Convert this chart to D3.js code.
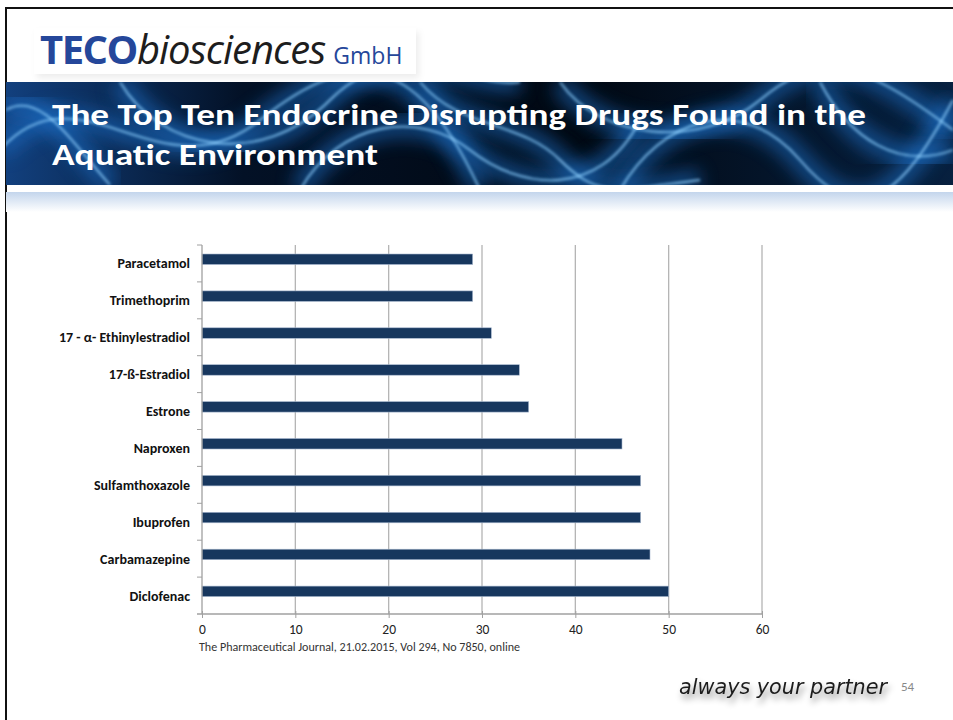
<!DOCTYPE html>
<html>
<head>
<meta charset="utf-8">
<script src="https://cdn.jsdelivr.net/npm/d3@7"></script>
<style>
  html, body { margin: 0; padding: 0; background: #fff; }
  svg { display: block; }
</style>
</head>
<body>
<svg id="slide" width="953" height="720"></svg>
<script>
// chart data, top to bottom as in the slide
const drugs = ["Paracetamol", "Trimethoprim", "17 - \u03b1- Ethinylestradiol", "17-\u00df-Estradiol", "Estrone",
  "Naproxen", "Sulfamthoxazole", "Ibuprofen", "Carbamazepine", "Diclofenac"];
const counts = [29, 29, 31, 34, 35, 45, 47, 47, 48, 50];
const xTicks = [0, 10, 20, 30, 40, 50, 60];

const titleLines = ["The Top Ten Endocrine Disrupting Drugs Found in the", "Aquatic Environment"];
const source = "The Pharmaceutical Journal, 21.02.2015, Vol 294, No 7850, online";

const svg = d3.select("#slide");
const font = "Carlito, Lato, 'Open Sans', sans-serif";

const defs = svg.append("defs");
const bg = defs.append("linearGradient").attr("id", "bannerBg").attr("x1", 0).attr("x2", 1).attr("y1", 0).attr("y2", 0);
bg.append("stop").attr("offset", "0%").attr("stop-color", "#12407e");
bg.append("stop").attr("offset", "25%").attr("stop-color", "#031126");
bg.append("stop").attr("offset", "60%").attr("stop-color", "#010812");
bg.append("stop").attr("offset", "100%").attr("stop-color", "#07203f");
const fade = defs.append("linearGradient").attr("id", "fade").attr("x1", 0).attr("x2", 0).attr("y1", 0).attr("y2", 1);
fade.append("stop").attr("offset", "0%").attr("stop-color", "#c3d5ec");
fade.append("stop").attr("offset", "100%").attr("stop-color", "#ffffff");
defs.append("filter").attr("id", "glow").append("feGaussianBlur").attr("stdDeviation", 1.6);
defs.append("filter").attr("id", "soft").append("feGaussianBlur").attr("stdDeviation", 9);
defs.append("clipPath").attr("id", "bannerClip").append("rect")
  .attr("x", 6).attr("y", 82).attr("width", 947).attr("height", 103);
const sh = defs.append("filter").attr("id", "shadow").attr("x", "-10%").attr("y", "-30%").attr("width", "130%").attr("height", "200%");
sh.append("feDropShadow").attr("dx", 2).attr("dy", 5).attr("stdDeviation", 3).attr("flood-color", "#000").attr("flood-opacity", 0.45);
const lsh = defs.append("filter").attr("id", "logoShadow").attr("x", "-5%").attr("y", "-20%").attr("width", "110%").attr("height", "150%");
lsh.append("feDropShadow").attr("dx", 3).attr("dy", 4).attr("stdDeviation", 3).attr("flood-color", "#000").attr("flood-opacity", 0.07);

// slide frame
svg.append("rect").attr("x", 6).attr("y", 8).attr("width", 960).attr("height", 720)
  .attr("fill", "none").attr("stroke", "#111").attr("stroke-width", 2);

// banner
const banner = svg.append("g").attr("clip-path", "url(#bannerClip)");
banner.append("rect").attr("x", 6).attr("y", 82).attr("width", 947).attr("height", 103).attr("fill", "url(#bannerBg)");
const swirls = [
  "M0,150 C80,60 160,200 260,120 S420,60 480,190",
  "M120,82 C160,150 260,170 330,100 S470,90 520,82",
  "M300,190 C340,120 420,110 470,150 S600,200 640,120",
  "M560,82 C600,140 700,150 760,100 S860,60 953,130",
  "M620,190 C660,120 740,90 800,160 S900,200 953,100",
  "M420,82 C460,130 520,120 560,160 S620,190 700,180",
  "M820,82 C850,140 900,170 953,150",
  "M6,110 C40,90 70,140 110,185"
];
banner.selectAll("path.soft").data(swirls).enter().append("path")
  .attr("d", d => d).attr("fill", "none").attr("stroke", "#1f6fc8")
  .attr("stroke-width", 22).attr("opacity", 0.55).attr("filter", "url(#soft)");
banner.selectAll("path.line").data(swirls).enter().append("path")
  .attr("d", d => d).attr("fill", "none").attr("stroke", "#8fd0ff")
  .attr("stroke-width", 1.8).attr("opacity", 0.9).attr("filter", "url(#glow)");
svg.append("rect").attr("x", 6).attr("y", 192).attr("width", 947).attr("height", 20).attr("fill", "url(#fade)");

// logo
svg.append("rect").attr("x", 34).attr("y", 28).attr("width", 382).attr("height", 46)
  .attr("fill", "#fff").attr("filter", "url(#logoShadow)");
const logo = svg.append("text").attr("x", 40).attr("y", 64).attr("font-family", "'Open Sans', 'Noto Sans', sans-serif");
logo.append("tspan").attr("font-size", 40).attr("font-weight", 700).attr("fill", "#25479a").attr("letter-spacing", -1.5).text("TECO");
logo.append("tspan").attr("font-size", 40).attr("font-style", "italic").attr("fill", "#1d1d1d").attr("letter-spacing", -1).text("biosciences");
logo.append("tspan").attr("dx", 8).attr("font-size", 23).attr("fill", "#25479a").text("GmbH");

// title
svg.selectAll("text.title").data(titleLines).enter().append("text")
  .attr("class", "title")
  .attr("x", 52).attr("y", (d, i) => 125 + i * 40)
  .attr("font-family", font).attr("font-size", 31).attr("font-weight", 700).attr("fill", "#fff")
  .attr("textLength", (d, i) => i === 0 ? 814 : 326).attr("lengthAdjust", "spacingAndGlyphs")
  .text(d => d);

// chart
const x = d3.scaleLinear().domain([0, 60]).range([202, 762]);
const y = d3.scaleBand().domain(drugs).range([245, 614]);
const barH = 10.5, barOff = 9;

svg.append("g").selectAll("line").data(xTicks.slice(1)).enter().append("line")
  .attr("x1", d => x(d)).attr("x2", d => x(d)).attr("y1", 245).attr("y2", 614)
  .attr("stroke", "#b4b4b4").attr("stroke-width", 1.3);

svg.append("g").selectAll("rect").data(drugs).enter().append("rect")
  .attr("x", x(0)).attr("y", d => y(d) + barOff)
  .attr("width", (d, i) => x(counts[i]) - x(0)).attr("height", barH)
  .attr("fill", "#17375e").attr("stroke", "#a9b9d0").attr("stroke-width", 0.6);

// y axis line, boundary ticks, labels
const yAxis = svg.append("g");
yAxis.append("line").attr("x1", x(0)).attr("x2", x(0)).attr("y1", 245).attr("y2", 614)
  .attr("stroke", "#a0a0a0").attr("stroke-width", 1.3);
yAxis.selectAll("line.tick").data(drugs).enter().append("line")
  .attr("x1", x(0) - 5).attr("x2", x(0)).attr("y1", d => y(d)).attr("y2", d => y(d))
  .attr("stroke", "#a0a0a0");
yAxis.selectAll("text").data(drugs).enter().append("text")
  .attr("x", 190).attr("y", d => y(d) + y.bandwidth() / 2 + 5)
  .attr("text-anchor", "end").attr("font-family", font).attr("font-size", 14).attr("font-weight", 700)
  .attr("fill", "#111").text(d => d);

// x axis
const xAxis = svg.append("g").attr("transform", "translate(0,614)")
  .call(d3.axisBottom(x).tickValues(xTicks).tickSize(4).tickPadding(6));
xAxis.select(".domain").attr("stroke", "#a0a0a0").attr("stroke-width", 1.3).attr("d", "M197,0H762");
xAxis.selectAll(".tick line").attr("stroke", "#a0a0a0").attr("y1", -3);
xAxis.selectAll(".tick text").attr("font-family", font).attr("font-size", 13.5).attr("fill", "#222");

svg.append("text").attr("x", 199).attr("y", 651).attr("font-family", font).attr("font-size", 12)
  .attr("fill", "#333").attr("textLength", 321).attr("lengthAdjust", "spacingAndGlyphs").text(source);

// footer
svg.append("text").attr("x", 679).attr("y", 694).attr("font-family", "'DejaVu Sans', sans-serif")
  .attr("font-size", 21).attr("font-style", "italic").attr("fill", "#1c1c1c")
  .attr("textLength", 208).attr("lengthAdjust", "spacingAndGlyphs")
  .attr("filter", "url(#shadow)").text("always your partner");
svg.append("text").attr("x", 901).attr("y", 691).attr("font-family", font).attr("font-size", 13)
  .attr("fill", "#888").text("54");
</script>
</body>
</html>
